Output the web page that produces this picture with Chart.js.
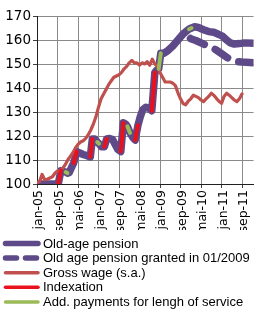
<!DOCTYPE html>
<html>
<head>
<meta charset="utf-8">
<title>Pension vs wage</title>
<script src="https://cdn.jsdelivr.net/npm/chart.js@4.4.1/dist/chart.umd.min.js"></script>
<style>
  html, body { margin: 0; padding: 0; background: #ffffff; }
  #wrap { width: 259px; height: 312px; }
</style>
</head>
<body>
<div id="wrap"><canvas id="chart" width="259" height="312"></canvas></div>
<script>
// x values are months counted from jan-05 (0 = jan-05, 8 = sep-05, ...)
var tickMonths = [0, 8, 16, 24, 32, 40, 48, 56, 64, 72, 80];
var tickLabels = ['jan-05', 'sep-05', 'mai-06', 'jan-07', 'sep-07', 'mai-08',
                  'jan-09', 'sep-09', 'mai-10', 'jan-11', 'sep-11'];

// Old-age pension (index, jan-05 = 100)
var pensionMonths = [0, 8.3, 9.3, 10.5, 11.2, 11.9, 12.6, 13.5, 14.3, 15.5, 16.5, 18, 19.5,
  20.8, 21.6, 22.5, 23.5, 24.2, 25.2, 26.3, 27.2, 28.3, 29.5, 30.5, 31.5, 32.7, 33.7,
  34.6, 35.3, 36.3, 37.3, 38.3, 39.4, 40.3, 41.3, 42.5, 43.8, 44.8, 46, 46.8, 47.5,
  48.3, 49.5, 51, 53, 55, 57, 59.3, 60.3, 61.5, 63, 65, 67, 69, 71, 72.5, 74, 75.5,
  77, 79, 81, 84.5];
var pensionValues = [100, 100, 105.5, 105.2, 105, 104.5, 104.8, 107, 108.7, 113.5, 113, 112.3, 111.8,
  111.3, 118.8, 118.8, 117.5, 116.8, 115.5, 115.5, 118.8, 119, 118.5, 116.5, 114.5, 113.5, 125.5,
  125, 124, 121.3, 119.5, 118.3, 124.5, 128, 131, 132, 131.5, 130.5, 146.5, 147.5, 148,
  154.5, 154.5, 155.5, 157.5, 160, 162.5, 164.5, 165, 165.5, 165.2, 164.3, 163.5, 163.2, 162.3, 161.5, 160, 158.8,
  158.3, 158.5, 158.8, 158.6];

// Old age pension granted in 01/2009 (splits off the main line)
var grantedMonths = [57, 58.5, 60, 62, 64, 66, 68, 70, 72, 74, 76, 78, 80, 84.5];
var grantedValues = [162.5, 162, 160.5, 159.8, 158.8, 157.8, 157, 155.8, 154.3, 152.8, 151.5, 151, 150.8, 150.5];

// Gross wage (s.a.)
var wageMonths = [0, 1, 2, 3, 4, 5, 6, 7, 8, 9, 10, 11, 12, 13, 14, 15, 16, 17, 18, 19, 20,
  21, 22, 23, 24, 25, 26, 27, 28, 29, 30, 31, 32, 33, 34, 35, 36, 37, 38, 39, 40,
  41, 42, 43, 44, 45, 46, 47, 48, 49, 50, 51, 52, 53, 54, 55, 56, 57, 58, 59, 60,
  61, 62, 63, 64, 65, 66, 67, 68, 69, 70, 71, 72, 73, 74, 75, 76, 77, 78, 79, 80];
var wageValues = [100.5, 101, 104, 101.8, 102, 102.5, 103, 104.5, 105.5, 105.5, 106.5,
  108, 110, 111.5, 113, 115, 116.5, 117.5, 118, 119, 120.5,
  122.5, 125, 128, 132, 135.5, 137.5, 139.5, 141.5, 143, 144.5,
  145, 145.5, 146.5, 148, 149, 150.5, 151.5, 150.5, 150.5, 149.5,
  150.5, 150, 151, 149.5, 152, 150, 149, 146.5, 144.5, 142.5,
  142.5, 142.5, 142, 141, 138, 135.5, 133.5, 133, 134.5, 135.5,
  137, 136.5, 136, 135, 134.3, 135.5, 136.5, 137.8, 137, 135.7,
  134.5, 133.6, 136.5, 137.8, 137, 136, 135, 134.3, 135.5, 137.5];

// Indexation steps: start month/value -> end month/value
var indexFromMonth = [8.3, 14.3, 20.8, 26.3, 32.7, 38.3, 44.8];
var indexFromValue = [100, 108.7, 111.3, 115.5, 113.5, 118.3, 130.5];
var indexToMonth   = [9.3, 15.5, 21.6, 27.2, 33.7, 39.4, 46];
var indexToValue   = [105.5, 113.5, 118.8, 118.8, 125.5, 124.5, 146.5];

// Add. payments for length of service
var addFromMonth = [11.2, 23.5, 35.3, 47.5, 59.3];
var addFromValue = [105, 117.5, 124, 148, 164.5];
var addToMonth   = [11.9, 24.2, 36.3, 48.3, 60.3];
var addToValue   = [104.5, 116.8, 121.3, 154.5, 165];

function toPoints(xs, ys) {
  return xs.map(function(x, i) { return { x: x, y: ys[i] }; });
}

// short segments separated by null points so the line breaks between them
function toSegments(x0, y0, x1, y1) {
  var pts = [];
  for (var i = 0; i < x0.length; i++) {
    pts.push({ x: x0[i], y: y0[i] });
    pts.push({ x: x1[i], y: y1[i] });
    pts.push({ x: x1[i], y: null });
  }
  return pts;
}

var PURPLE = '#5E4A88';
var WAGE = '#C0504D';
var INDEX_RED = '#E8111C';
var GREEN = '#9BBB59';

var X_FONT = { family: '"DejaVu Sans", Verdana, sans-serif', size: 12.5 };
var Y_FONT = { family: '"DejaVu Sans", Verdana, sans-serif', size: 13.5 };

// legend drawn below the plot, one entry per line, left aligned
var stackedLegend = {
  id: 'stackedLegend',
  afterDraw: function(chart) {
    var ctx = chart.ctx;
    ctx.save();
    ctx.font = '13px "Liberation Sans", Arial, sans-serif';
    ctx.textBaseline = 'middle';
    ctx.textAlign = 'left';
    chart.data.datasets.forEach(function(ds, i) {
      var y = 243.5 + i * 14.6;
      ctx.beginPath();
      ctx.strokeStyle = ds.borderColor;
      ctx.lineWidth = ds.legendWidth;
      ctx.lineCap = 'round';
      ctx.setLineDash(ds.legendDash || []);
      ctx.moveTo(5.5, y);
      ctx.lineTo(38, y);
      ctx.stroke();
      ctx.setLineDash([]);
      ctx.fillStyle = '#000000';
      ctx.fillText(ds.label, 43, y + 0.5);
    });
    ctx.restore();
  }
};

var lineDefaults = {
  pointRadius: 0,
  pointHoverRadius: 0,
  tension: 0,
  fill: false,
  borderCapStyle: 'round',
  borderJoinStyle: 'round',
  spanGaps: false
};

function ds(extra) {
  return Object.assign({}, lineDefaults, extra);
}

new Chart(document.getElementById('chart'), {
  type: 'line',
  data: {
    datasets: [
      ds({ label: 'Old-age pension', data: toPoints(pensionMonths, pensionValues),
           borderColor: PURPLE, borderWidth: 7.5, order: 5, legendWidth: 5.5 }),
      ds({ label: 'Old age pension granted in 01/2009', data: toPoints(grantedMonths, grantedValues),
           borderColor: PURPLE, borderWidth: 7.5, borderDash: [15, 12], borderDashOffset: -9,
           order: 4, legendWidth: 5.5, legendDash: [11, 9] }),
      ds({ label: 'Gross wage (s.a.)', data: toPoints(wageMonths, wageValues),
           borderColor: WAGE, borderWidth: 3.2, order: 3, legendWidth: 3.5 }),
      ds({ label: 'Indexation', data: toSegments(indexFromMonth, indexFromValue, indexToMonth, indexToValue),
           borderColor: INDEX_RED, borderWidth: 4, order: 2, legendWidth: 3.5 }),
      ds({ label: 'Add. payments for lengh of service', data: toSegments(addFromMonth, addFromValue, addToMonth, addToValue),
           borderColor: GREEN, borderWidth: 4, order: 1, legendWidth: 3.5 })
    ]
  },
  options: {
    responsive: false,
    devicePixelRatio: 1,
    animation: false,
    events: [],
    layout: { padding: { top: 16, right: 0, bottom: 82, left: 0 } },
    plugins: {
      legend: { display: false },
      tooltip: { enabled: false }
    },
    scales: {
      x: {
        type: 'linear',
        min: 0,
        max: 84.5,
        afterBuildTicks: function(scale) {
          scale.ticks = tickMonths.map(function(m) { return { value: m }; });
        },
        afterFit: function(scale) { scale.height = 46; },
        ticks: {
          autoSkip: false,
          minRotation: 90,
          maxRotation: 90,
          padding: 2,
          labelOffset: 2,
          color: '#000000',
          font: X_FONT,
          callback: function(v) { return tickLabels[tickMonths.indexOf(v)]; }
        },
        grid: { color: '#8a8a8a', lineWidth: 1, tickLength: 4, tickColor: '#404040' },
        border: { color: '#202020', width: 1 }
      },
      y: {
        min: 100,
        max: 170,
        afterFit: function(scale) { scale.width = 37; },
        ticks: {
          stepSize: 10,
          padding: 2,
          color: '#000000',
          font: Y_FONT
        },
        grid: { color: '#8a8a8a', lineWidth: 1, tickLength: 4, tickColor: '#404040' },
        border: { color: '#202020', width: 1 }
      }
    }
  },
  plugins: [stackedLegend]
});
</script>
</body>
</html>
